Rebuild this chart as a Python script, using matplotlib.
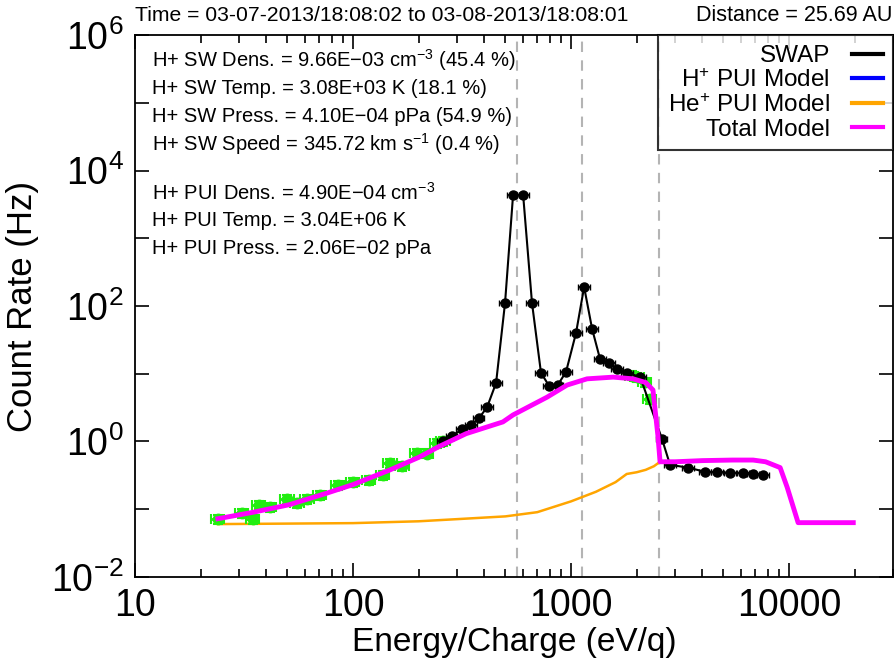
import math
import matplotlib
matplotlib.use("Agg")
import matplotlib.pyplot as plt
from matplotlib.lines import Line2D
from matplotlib.ticker import FixedLocator, FuncFormatter, NullFormatter, LogLocator

plt.rcParams['font.family'] = ['Liberation Sans', 'DejaVu Sans']
plt.rcParams['mathtext.fontset'] = 'custom'
plt.rcParams['mathtext.rm'] = 'Liberation Sans'
plt.rcParams['mathtext.it'] = 'Liberation Sans:italic'

# SWAP measurements (black)
swap_e = [259, 284, 316, 348, 378, 412, 453, 498, 542, 603, 662, 728, 793, 871, 948,
          1054, 1148, 1249, 1358, 1494, 1625, 1807, 2075, 2612, 2845, 3443, 4120,
          4680, 5360, 6150, 6840, 7600]
swap_c = [1.02, 1.2, 1.5, 1.75, 2.2, 3.2, 7.3, 111, 4345, 4345, 111, 10.3, 6.6, 6.9, 10.6,
          40, 191, 46, 16.5, 14.4, 11.8, 10.2, 9.0, 1.09, 0.45, 0.41, 0.355,
          0.35, 0.345, 0.34, 0.335, 0.32]

# points used in the fit (green)
fit_e = [24.0, 30.9, 34.7, 37.0, 41.6, 49.9, 55.4, 61.6, 70.6, 85.3, 100, 118, 137, 148,
         168, 197, 218, 243, 259, 1900, 2010, 2185, 2300]
fit_c = [0.072, 0.088, 0.072, 0.116, 0.108, 0.142, 0.124, 0.142, 0.162, 0.228, 0.252, 0.27,
         0.32, 0.48, 0.43, 0.68, 0.66, 0.95, 1.02, 9.4, 8.96, 7.6, 4.2]

# total model (magenta)
tot_e = [24, 35, 51, 75, 100, 148, 200, 250, 330, 487, 542, 776, 959, 1184, 1560, 1925,
         2200, 2375, 2506, 2560, 3000, 4000, 5500, 6840, 7800, 9100, 9800, 11000, 19700]
tot_c = [0.072, 0.09, 0.116, 0.17, 0.23, 0.38, 0.58, 0.85, 1.3, 1.94, 2.46, 4.5, 6.8, 8.4,
         8.9, 8.4, 7.4, 5.75, 1.16, 0.50, 0.50, 0.52, 0.53, 0.53, 0.5, 0.41, 0.21, 0.063, 0.063]

# He+ PUI model (orange)
he_e = [24, 50, 100, 200, 300, 500, 700, 1000, 1300, 1600, 1800, 2000, 2200, 2400, 2560]
he_c = [0.06, 0.061, 0.062, 0.066, 0.071, 0.078, 0.09, 0.13, 0.18, 0.25, 0.33, 0.35, 0.38,
        0.43, 0.5]

vlines_e = [565, 1122, 2535]

fig = plt.figure(figsize=(8.94, 6.66), dpi=100)
ax = fig.add_axes([0.151, 0.134, 0.848, 0.813])

for v in vlines_e:
    ax.axvline(v, color='#b4b4b4', ls=(0, (5, 4)), lw=1.5, zorder=1)

ax.plot(he_e, he_c, color='orange', lw=1.8, zorder=2)

fit_xerr = [[e * 0.07 for e in fit_e], [e * 0.07 for e in fit_e]]
fit_yerr = [[c * 0.15 for c in fit_c], [c * 0.15 for c in fit_c]]
ax.errorbar(fit_e, fit_c, xerr=fit_xerr, yerr=fit_yerr, fmt='o', color='#22ee11',
            ms=7.5, elinewidth=2, capsize=3.5, capthick=1.5, zorder=3)

swap_xerr = [[e * 0.06 for e in swap_e], [e * 0.06 for e in swap_e]]
swap_yerr = [[c * 0.08 for c in swap_c], [c * 0.08 for c in swap_c]]
ax.errorbar(swap_e, swap_c, xerr=swap_xerr, yerr=swap_yerr, fmt='-o', color='black',
            ms=6.5, lw=1.5, elinewidth=1.2, capsize=2, zorder=4)

ax.plot(tot_e, tot_c, color='magenta', lw=3.5, zorder=5)

ax.set_xscale('log')
ax.set_yscale('log')
ax.set_xlim(10, 30000)
ax.set_ylim(1e-2, 1e6)

ax.xaxis.set_major_locator(FixedLocator([10, 100, 1000, 10000]))
ax.xaxis.set_major_formatter(FuncFormatter(lambda v, p: f"{int(round(v))}"))
ax.xaxis.set_minor_locator(LogLocator(base=10, subs=range(2, 10), numticks=20))
ax.xaxis.set_minor_formatter(NullFormatter())


def ylab(v, p):
    k = int(round(math.log10(v)))
    return f"$10^{{{k}}}$" if k % 2 == 0 else ""


ax.yaxis.set_major_locator(FixedLocator([10.0 ** k for k in range(-2, 7)]))
ax.yaxis.set_major_formatter(FuncFormatter(ylab))
ax.yaxis.set_minor_locator(FixedLocator([]))

ax.tick_params(which='both', direction='in', top=True, right=True, width=1.2)
ax.tick_params(which='major', length=10, labelsize=27, pad=8)
ax.tick_params(which='minor', length=6)
for s in ax.spines.values():
    s.set_linewidth(1.3)

ax.set_xlabel('Energy/Charge (eV/q)', fontsize=24, labelpad=2)
ax.set_ylabel('Count Rate (Hz)', fontsize=25, labelpad=9)

fig.text(0.151, 0.976, 'Time = 03-07-2013/18:08:02 to 03-08-2013/18:08:01',
         fontsize=15.2, ha='left', va='center')
fig.text(0.998, 0.976, 'Distance = 25.69 AU', fontsize=15.5, ha='right', va='center')

info = [
    ('H+ SW Dens. = 9.66E\u221203 cm$^{-3}$ (45.4 %)', 60),
    ('H+ SW Temp. = 3.08E+03 K (18.1 %)', 88),
    ('H+ SW Press. = 4.10E\u221204 pPa (54.9 %)', 116),
    ('H+ SW Speed = 345.72 km s$^{-1}$ (0.4 %)', 144),
    ('H+ PUI Dens. = 4.90E\u221204 cm$^{-3}$', 193),
    ('H+ PUI Temp. = 3.04E+06 K', 221),
    ('H+ PUI Press. = 2.06E\u221202 pPa', 249),
]
for txt, py in info:
    fig.text(152 / 894, 1 - py / 666, txt, fontsize=14.5, ha='left', va='center')

handles = [Line2D([], [], color='black', lw=3),
           Line2D([], [], color='blue', lw=3),
           Line2D([], [], color='orange', lw=3),
           Line2D([], [], color='magenta', lw=3)]
labels = ['SWAP', 'H$^{+}$ PUI Model', 'He$^{+}$ PUI Model', 'Total Model']
leg = ax.legend(handles, labels, loc='upper right', markerfirst=False, fontsize=17.5,
                frameon=True, fancybox=False, borderaxespad=0, handlelength=1.3,
                labelspacing=0.08, borderpad=0.4, handletextpad=0.9)
leg.get_frame().set_edgecolor('black')
leg.get_frame().set_linewidth(1.5)
leg.set_zorder(10)

fig.savefig('out.png', dpi=100)
